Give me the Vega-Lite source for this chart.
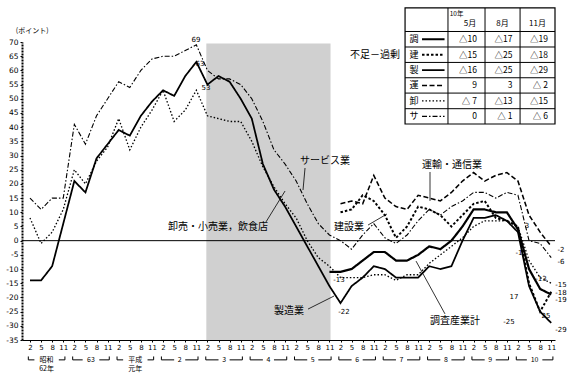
{
  "$schema": "https://vega.github.io/schema/vega-lite/v6.json",
  "width": 533,
  "height": 298,
  "autosize": {"type": "none"},
  "padding": {"left": 22, "top": 42, "right": 18, "bottom": 39},
  "background": "white",
  "config": {
    "view": {"stroke": null},
    "font": "Noto Sans CJK JP",
    "axis": {"labelFont": "DejaVu Sans", "labelColor": "black", "domainColor": "black", "tickColor": "black", "labelOverlap": false, "labelFlush": false, "grid": false, "title": null}
  },
  "datasets": {
    "series": [
      {"t": 0, "mfg": -14, "whl": 8, "svc": 15},
      {"t": 1, "mfg": -14, "whl": -1, "svc": 11},
      {"t": 2, "mfg": -9, "whl": 3, "svc": 15},
      {"t": 3, "mfg": 6, "whl": 11, "svc": 15},
      {"t": 4, "mfg": 21, "whl": 25, "svc": 41},
      {"t": 5, "mfg": 17, "whl": 20, "svc": 34},
      {"t": 6, "mfg": 29, "whl": 28, "svc": 44},
      {"t": 7, "mfg": 34, "whl": 33, "svc": 50},
      {"t": 8, "mfg": 39, "whl": 43, "svc": 56},
      {"t": 9, "mfg": 37, "whl": 32, "svc": 54},
      {"t": 10, "mfg": 44, "whl": 40, "svc": 60},
      {"t": 11, "mfg": 49, "whl": 46, "svc": 64},
      {"t": 12, "mfg": 53, "whl": 53, "svc": 65},
      {"t": 13, "mfg": 51, "whl": 42, "svc": 65},
      {"t": 14, "mfg": 58, "whl": 46, "svc": 67},
      {"t": 15, "mfg": 63, "whl": 53, "svc": 69},
      {"t": 16, "mfg": 55, "whl": 44, "svc": 60},
      {"t": 17, "mfg": 58, "whl": 43, "svc": 57},
      {"t": 18, "mfg": 56, "whl": 42, "svc": 57},
      {"t": 19, "mfg": 50, "whl": 42, "svc": 55},
      {"t": 20, "mfg": 43, "whl": 35, "svc": 50},
      {"t": 21, "mfg": 27, "whl": 26, "svc": 42},
      {"t": 22, "mfg": 18, "whl": 19, "svc": 32},
      {"t": 23, "mfg": 12, "whl": 13, "svc": 27},
      {"t": 24, "mfg": 5, "whl": 8, "svc": 21},
      {"t": 25, "mfg": -2, "whl": 0, "svc": 13},
      {"t": 26, "mfg": -9, "whl": -6, "svc": 6},
      {"t": 27, "mfg": -16, "whl": -9, "svc": 2, "all": -11},
      {"t": 28, "mfg": -22, "whl": -13, "svc": 0, "all": -11, "con": 10, "trn": 13},
      {"t": 29, "mfg": -16, "whl": -13, "svc": -3, "all": -10, "con": 11, "trn": 14},
      {"t": 30, "mfg": -13, "whl": -13, "svc": 2, "all": -7, "con": 16, "trn": 13},
      {"t": 31, "mfg": -9, "whl": -12, "svc": 6, "all": -4, "con": 14, "trn": 23},
      {"t": 32, "mfg": -10, "whl": -12, "svc": 1, "all": -4, "con": 9, "trn": 15},
      {"t": 33, "mfg": -13, "whl": -14, "svc": -1, "all": -7, "con": 1, "trn": 12},
      {"t": 34, "mfg": -13, "whl": -12, "svc": 2, "all": -7, "con": 5, "trn": 11},
      {"t": 35, "mfg": -13, "whl": -12, "svc": 7, "all": -5, "con": 12, "trn": 16},
      {"t": 36, "mfg": -9, "whl": -8, "svc": 11, "all": -2, "con": 11, "trn": 15},
      {"t": 37, "mfg": -10, "whl": -5, "svc": 9, "all": -3, "con": 9, "trn": 14},
      {"t": 38, "mfg": -9, "whl": -2, "svc": 12, "all": 0, "con": 5, "trn": 17},
      {"t": 39, "mfg": 0, "whl": 1, "svc": 14, "all": 5, "con": 9, "trn": 21},
      {"t": 40, "mfg": 8, "whl": 5, "svc": 17, "all": 11, "con": 13, "trn": 24},
      {"t": 41, "mfg": 8, "whl": 7, "svc": 17, "all": 11, "con": 14, "trn": 21},
      {"t": 42, "mfg": 9, "whl": 7, "svc": 15, "all": 10, "con": 8, "trn": 23},
      {"t": 43, "mfg": 7, "whl": 7, "svc": 17, "all": 10, "con": 7, "trn": 24},
      {"t": 44, "mfg": 3, "whl": 5, "svc": 16, "all": 4, "con": 5, "trn": 21},
      {"t": 45, "mfg": -16, "whl": -7, "svc": 0, "all": -10, "con": -15, "trn": 9},
      {"t": 46, "mfg": -25, "whl": -13, "svc": -1, "all": -17, "con": -25, "trn": 3},
      {"t": 47, "mfg": -29, "whl": -15, "svc": -6, "all": -19, "con": -18, "trn": -2}
    ],
    "jlab": [
      {"t": 31.11, "v": 65.4, "txt": "不足－過剰"},
      {"t": 26.6, "v": 28.07, "txt": "サービス業"},
      {"t": 38.05, "v": 26.66, "txt": "運輸・通信業"},
      {"t": 28.77, "v": 4.81, "txt": "建設業"},
      {"t": 16.95, "v": 4.81, "txt": "卸売・小売業，飲食店"},
      {"t": 23.36, "v": -24.78, "txt": "製造業"},
      {"t": 38.32, "v": -28.3, "txt": "調査産業計"}
    ],
    "nlab": [
      {"t": 14.97, "v": 70.7, "txt": "69"},
      {"t": 15.33, "v": 62.25, "txt": "63"},
      {"t": 15.87, "v": 53.8, "txt": "53"},
      {"t": 27.86, "v": -13.86, "txt": "-13"},
      {"t": 28.31, "v": -25.1, "txt": "-22"},
      {"t": 44.82, "v": 5.17, "txt": "3"},
      {"t": 44.1, "v": -4.35, "txt": "-1"},
      {"t": 47.88, "v": -3.29, "txt": "-2"},
      {"t": 47.88, "v": -7.52, "txt": "-6"},
      {"t": 46.08, "v": -13.5, "txt": "-13"},
      {"t": 47.88, "v": -15.6, "txt": "-15"},
      {"t": 47.88, "v": -18.3, "txt": "-18"},
      {"t": 47.88, "v": -21.0, "txt": "-19"},
      {"t": 43.64, "v": -19.85, "txt": "17"},
      {"t": 46.53, "v": -26.55, "txt": "25"},
      {"t": 43.19, "v": -28.66, "txt": "-25"},
      {"t": 47.88, "v": -31.48, "txt": "-29"}
    ],
    "small": [
      {"t": 0.2, "v": 73.9, "txt": "(ポイント)"}
    ],
    "lead": [
      {"a": 24.8, "b": 24.62, "y1": 25.6, "y2": 17.85},
      {"a": 36.07, "b": 36.07, "y1": 24.2, "y2": 14.0},
      {"a": 30.48, "b": 32.19, "y1": 5.5, "y2": 9.4},
      {"a": 21.28, "b": 23.0, "y1": 6.6, "y2": 17.5},
      {"a": 25.07, "b": 27.42, "y1": -24.1, "y2": -19.5},
      {"a": 37.42, "b": 34.81, "y1": -25.8, "y2": -7.2}
    ],
    "years": [
      {"c": 1.5, "lab": "昭和", "lab2": "62年", "s": -0.15, "l": 0.4, "r": 2.6, "e": 3.15},
      {"c": 5.5, "lab": "63", "s": 3.85, "l": 4.75, "r": 6.25, "e": 7.15},
      {"c": 9.5, "lab": "平成", "lab2": "元年", "s": 7.85, "l": 8.4, "r": 10.6, "e": 11.15},
      {"c": 13.5, "lab": "2", "s": 11.85, "l": 13.0, "r": 14.0, "e": 15.15},
      {"c": 17.5, "lab": "3", "s": 15.85, "l": 17.0, "r": 18.0, "e": 19.15},
      {"c": 21.5, "lab": "4", "s": 19.85, "l": 21.0, "r": 22.0, "e": 23.15},
      {"c": 25.5, "lab": "5", "s": 23.85, "l": 25.0, "r": 26.0, "e": 27.15},
      {"c": 29.5, "lab": "6", "s": 27.85, "l": 29.0, "r": 30.0, "e": 31.15},
      {"c": 33.5, "lab": "7", "s": 31.85, "l": 33.0, "r": 34.0, "e": 35.15},
      {"c": 37.5, "lab": "8", "s": 35.85, "l": 37.0, "r": 38.0, "e": 39.15},
      {"c": 41.5, "lab": "9", "s": 39.85, "l": 41.0, "r": 42.0, "e": 43.15},
      {"c": 45.5, "lab": "10", "s": 43.85, "l": 44.8, "r": 46.2, "e": 47.15}
    ],
    "tab": [
      {"s": "all", "name": "調", "m5": "△10", "m8": "△17", "m11": "△19", "ly": 70.97},
      {"s": "con", "name": "建", "m5": "△15", "m8": "△25", "m11": "△18", "ly": 65.52},
      {"s": "mfg", "name": "製", "m5": "△16", "m8": "△25", "m11": "△29", "ly": 60.1},
      {"s": "trn", "name": "運", "m5": "9", "m8": "3", "m11": "△ 2", "ly": 54.7},
      {"s": "whl", "name": "卸", "m5": "△ 7", "m8": "△13", "m11": "△15", "ly": 49.25},
      {"s": "svc", "name": "サ", "m5": "0", "m8": "△ 1", "m11": "△ 6", "ly": 43.8}
    ],
    "hdr": [
      {"t": 39.68, "txt": "5月"},
      {"t": 42.61, "txt": "8月"},
      {"t": 45.76, "txt": "11月"}
    ],
    "hg": [{"gy": 73.7}, {"gy": 68.24}, {"gy": 62.8}, {"gy": 57.4}, {"gy": 52.0}, {"gy": 46.5}],
    "vg": [{"gx": 37.69}, {"gx": 41.03}, {"gx": 44.19}]
  },
  "layer": [
    {
      "data": {"values": [{"from": "平成3年2月", "to": "平成5年11月"}]},
      "mark": {"type": "rect", "fill": "#d0d0d0"},
      "encoding": {
        "x": {
          "datum": 15.9, "type": "quantitative",
          "scale": {"domain": [-0.72, 47.34], "nice": false, "zero": false},
          "axis": {
            "values": [0,1,2,3,4,5,6,7,8,9,10,11,12,13,14,15,16,17,18,19,20,21,22,23,24,25,26,27,28,29,30,31,32,33,34,35,36,37,38,39,40,41,42,43,44,45,46,47],
            "tickCount": 100,
            "labelExpr": "['2','5','8','11'][datum.value % 4]",
            "labelFontSize": 7, "labelPadding": 1, "tickSize": 2, "labelAngle": 0,
            "labelOverlap": false, "labelFlush": false, "labelBound": false
          }
        },
        "x2": {"datum": 27.1},
        "y": {
          "datum": -35, "type": "quantitative",
          "scale": {"domain": [-35, 70], "nice": false, "zero": false},
          "axis": {
            "values": [-35,-30,-25,-20,-15,-10,-5,0,5,10,15,20,25,30,35,40,45,50,55,60,65,70],
            "tickCount": 100,
            "labelExpr": "toString(datum.value)",
            "labelFontSize": 7.5, "labelPadding": 2, "tickSize": 2,
            "domainDash": [2, 1], "domainWidth": 2, "labelOverlap": false, "labelFlush": false, "labelBound": false
          }
        },
        "y2": {"datum": 69.5}
      }
    },
    {
      "data": {"values": [{"v": 0}]},
      "mark": {"type": "rule", "color": "black", "strokeWidth": 1},
      "encoding": {"y": {"field": "v", "type": "quantitative"}}
    },
    {
      "data": {"name": "series"},
      "transform": [
        {"fold": ["all", "con", "mfg", "trn", "whl", "svc"], "as": ["s", "v"]},
        {"filter": "isValid(datum.v)"}
      ],
      "mark": {"type": "line", "color": "black"},
      "encoding": {
        "x": {"field": "t", "type": "quantitative"},
        "y": {"field": "v", "type": "quantitative"},
        "detail": {"field": "s", "type": "nominal"},
        "strokeDash": {
          "field": "s", "type": "nominal",
          "scale": {"domain": ["all", "con", "mfg", "trn", "whl", "svc"], "range": [[1, 0], [2.5, 2], [1, 0], [5, 2.5], [1.5, 2], [5, 2, 1.5, 2]]},
          "legend": null
        },
        "size": {
          "field": "s", "type": "nominal",
          "scale": {"domain": ["all", "con", "mfg", "trn", "whl", "svc"], "range": [2.2, 1.1, 1.1, 1.1, 1.1, 1.1]},
          "legend": null
        }
      }
    },
    {
      "data": {"name": "lead"},
      "mark": {"type": "rule", "color": "black", "strokeWidth": 0.8},
      "encoding": {
        "x": {"field": "a", "type": "quantitative"},
        "x2": {"field": "b"},
        "y": {"field": "y1", "type": "quantitative"},
        "y2": {"field": "y2"}
      }
    },
    {
      "data": {"name": "jlab"},
      "mark": {"type": "text", "fontSize": 10, "color": "black", "align": "center", "baseline": "middle", "font": "Noto Sans CJK JP"},
      "encoding": {
        "x": {"field": "t", "type": "quantitative"},
        "y": {"field": "v", "type": "quantitative"},
        "text": {"field": "txt"}
      }
    },
    {
      "data": {"name": "nlab"},
      "mark": {"type": "text", "fontSize": 7, "color": "black", "align": "center", "baseline": "middle", "font": "DejaVu Sans"},
      "encoding": {
        "x": {"field": "t", "type": "quantitative"},
        "y": {"field": "v", "type": "quantitative"},
        "text": {"field": "txt"}
      }
    },
    {
      "data": {"name": "small"},
      "mark": {"type": "text", "fontSize": 7, "color": "black", "align": "center", "baseline": "middle", "font": "Noto Sans CJK JP"},
      "encoding": {
        "x": {"field": "t", "type": "quantitative"},
        "y": {"field": "v", "type": "quantitative"},
        "text": {"field": "txt"}
      }
    },
    {
      "data": {"name": "years"},
      "mark": {"type": "rule", "color": "black", "strokeWidth": 1},
      "encoding": {"x": {"field": "s", "type": "quantitative"}, "x2": {"field": "l"}, "y": {"datum": -42.0, "type": "quantitative"}}
    },
    {
      "data": {"name": "years"},
      "mark": {"type": "rule", "color": "black", "strokeWidth": 1},
      "encoding": {"x": {"field": "r", "type": "quantitative"}, "x2": {"field": "e"}, "y": {"datum": -42.0, "type": "quantitative"}}
    },
    {
      "data": {"name": "years"},
      "mark": {"type": "rule", "color": "black", "strokeWidth": 1},
      "encoding": {"x": {"field": "s", "type": "quantitative"}, "y": {"datum": -42.0, "type": "quantitative"}, "y2": {"datum": -40.8}}
    },
    {
      "data": {"name": "years"},
      "mark": {"type": "rule", "color": "black", "strokeWidth": 1},
      "encoding": {"x": {"field": "e", "type": "quantitative"}, "y": {"datum": -42.0, "type": "quantitative"}, "y2": {"datum": -40.8}}
    },
    {
      "data": {"name": "years"},
      "mark": {"type": "text", "fontSize": 7, "color": "black", "align": "center", "baseline": "middle", "font": "Noto Sans CJK JP"},
      "encoding": {"x": {"field": "c", "type": "quantitative"}, "y": {"datum": -41.9, "type": "quantitative"}, "text": {"field": "lab"}}
    },
    {
      "data": {"name": "years"},
      "transform": [{"filter": "isValid(datum.lab2)"}],
      "mark": {"type": "text", "fontSize": 7, "color": "black", "align": "center", "baseline": "middle", "font": "Noto Sans CJK JP"},
      "encoding": {"x": {"field": "c", "type": "quantitative"}, "y": {"datum": -45.3, "type": "quantitative"}, "text": {"field": "lab2"}}
    },
    {
      "data": {"values": [{"table": "10年"}]},
      "mark": {"type": "rect", "fill": "white", "stroke": "black", "strokeWidth": 1.2},
      "encoding": {
        "x": {"datum": 33.82, "type": "quantitative"},
        "x2": {"datum": 47.34},
        "y": {"datum": 41.1, "type": "quantitative"},
        "y2": {"datum": 82.0}
      }
    },
    {
      "data": {"name": "hg"},
      "mark": {"type": "rule", "color": "black", "strokeWidth": 1},
      "encoding": {"x": {"datum": 33.82, "type": "quantitative"}, "x2": {"datum": 47.34}, "y": {"field": "gy", "type": "quantitative"}}
    },
    {
      "data": {"name": "vg"},
      "mark": {"type": "rule", "color": "black", "strokeWidth": 1},
      "encoding": {"x": {"field": "gx", "type": "quantitative"}, "y": {"datum": 41.1, "type": "quantitative"}, "y2": {"datum": 82.0}}
    },
    {
      "data": {"values": [{"txt": "10年"}]},
      "mark": {"type": "text", "fontSize": 6.5, "color": "black", "align": "left", "baseline": "middle", "font": "Noto Sans CJK JP"},
      "encoding": {"x": {"datum": 37.85, "type": "quantitative"}, "y": {"datum": 79.9, "type": "quantitative"}, "text": {"field": "txt"}}
    },
    {
      "data": {"name": "hdr"},
      "mark": {"type": "text", "fontSize": 8, "color": "black", "align": "center", "baseline": "middle", "font": "Noto Sans CJK JP"},
      "encoding": {"x": {"field": "t", "type": "quantitative"}, "y": {"datum": 76.3, "type": "quantitative"}, "text": {"field": "txt"}}
    },
    {
      "data": {"name": "tab"},
      "mark": {"type": "text", "fontSize": 9, "color": "black", "align": "center", "baseline": "middle", "font": "Noto Sans CJK JP"},
      "encoding": {"x": {"datum": 34.63, "type": "quantitative"}, "y": {"field": "ly", "type": "quantitative"}, "text": {"field": "name"}}
    },
    {
      "data": {"name": "tab"},
      "mark": {"type": "rule", "color": "black"},
      "encoding": {
        "x": {"datum": 35.35, "type": "quantitative"},
        "x2": {"datum": 37.38},
        "y": {"field": "ly", "type": "quantitative"},
        "strokeDash": {"field": "s", "type": "nominal", "legend": null},
        "size": {"field": "s", "type": "nominal", "legend": null}
      }
    },
    {
      "data": {"name": "tab"},
      "mark": {"type": "text", "fontSize": 8.5, "color": "black", "align": "right", "baseline": "middle", "font": "Noto Sans CJK JP"},
      "encoding": {"x": {"datum": 40.3, "type": "quantitative"}, "y": {"field": "ly", "type": "quantitative"}, "text": {"field": "m5"}}
    },
    {
      "data": {"name": "tab"},
      "mark": {"type": "text", "fontSize": 8.5, "color": "black", "align": "right", "baseline": "middle", "font": "Noto Sans CJK JP"},
      "encoding": {"x": {"datum": 43.5, "type": "quantitative"}, "y": {"field": "ly", "type": "quantitative"}, "text": {"field": "m8"}}
    },
    {
      "data": {"name": "tab"},
      "mark": {"type": "text", "fontSize": 8.5, "color": "black", "align": "right", "baseline": "middle", "font": "Noto Sans CJK JP"},
      "encoding": {"x": {"datum": 46.7, "type": "quantitative"}, "y": {"field": "ly", "type": "quantitative"}, "text": {"field": "m11"}}
    }
  ]
}
